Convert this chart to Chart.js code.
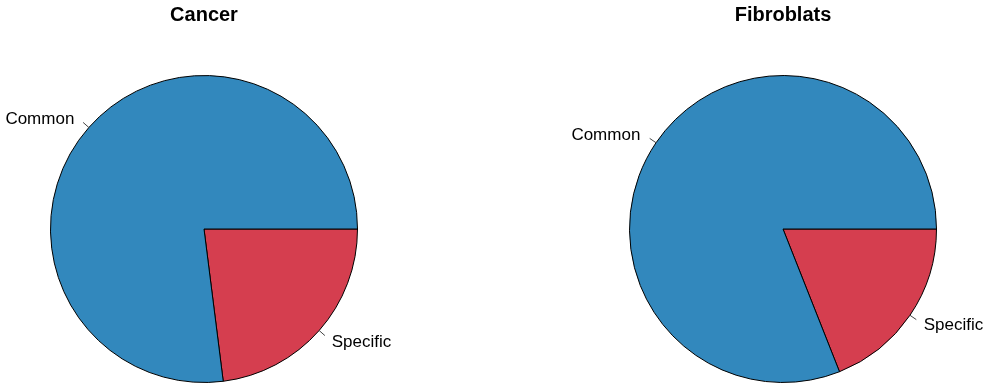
<!DOCTYPE html>
<html>
<head>
<meta charset="utf-8">
<script src="https://cdn.jsdelivr.net/npm/chart.js@4"></script>
<style>
  html, body { margin: 0; padding: 0; background: #fff; }
  #wrap { position: relative; width: 985px; height: 385px; }
  .box { position: absolute; top: 0; height: 385px; }
</style>
</head>
<body>
<div id="wrap">
  <div class="box" style="left:0;width:492px"><canvas id="pieCancer"></canvas></div>
  <div class="box" style="left:492px;width:493px"><canvas id="pieFibro"></canvas></div>
</div>
<script>
const categorias = ['Common', 'Specific'];
const valoresCancer = [77, 23];
const valoresFibro = [81, 19];
const colores = ['#3288BD', '#D53E4F'];

// etiquetas fuera de la tarta, al estilo de pie() en R
const etiquetasFuera = {
  id: 'etiquetasFuera',
  afterDatasetsDraw(chart) {
    const ctx = chart.ctx;
    const meta = chart.getDatasetMeta(0);
    ctx.save();
    ctx.font = '17px "Liberation Sans", Arial, sans-serif';
    ctx.textBaseline = 'middle';
    meta.data.forEach(function(arco, i) {
      const p = arco.getProps(['x', 'y', 'startAngle', 'endAngle', 'outerRadius'], true);
      const medio = (p.startAngle + p.endAngle) / 2;
      const c = Math.cos(medio), s = Math.sin(medio);
      const r = p.outerRadius;
      ctx.strokeStyle = '#444';
      ctx.lineWidth = 1;
      ctx.beginPath();
      ctx.moveTo(p.x + c * r, p.y + s * r);
      ctx.lineTo(p.x + c * r * 1.05, p.y + s * r * 1.05);
      ctx.stroke();
      ctx.fillStyle = '#000';
      ctx.textAlign = c < 0 ? 'right' : 'left';
      const hueco = c < 0 ? -3 : 1;
      ctx.fillText(chart.data.labels[i], p.x + c * r * 1.1 + hueco, p.y + s * r * 1.1 + 1.5);
    });
    ctx.restore();
  }
};

function crearTarta(id, titulo, valores, izq, der) {
  // Chart.js dibuja en sentido horario; empezamos por Specific desde las 3 en punto
  const orden = [1, 0];
  new Chart(document.getElementById(id), {
    type: 'pie',
    data: {
      labels: orden.map(i => categorias[i]),
      datasets: [{
        data: orden.map(i => valores[i]),
        backgroundColor: orden.map(i => colores[i]),
        borderColor: '#000',
        borderWidth: 1
      }]
    },
    options: {
      responsive: true,
      maintainAspectRatio: false,
      animation: false,
      rotation: 90,
      events: [],
      layout: { padding: { left: izq, right: der, top: 0, bottom: 2 } },
      plugins: {
        legend: { display: false },
        tooltip: { enabled: false },
        title: {
          display: true,
          text: titulo,
          color: '#000',
          font: { family: '"Liberation Sans", Arial, sans-serif', size: 20, weight: 'bold', lineHeight: 1.2 },
          padding: { top: 3, bottom: 48 }
        }
      }
    },
    plugins: [etiquetasFuera]
  });
}

crearTarta('pieCancer', 'Cancer', valoresCancer, 50, 134);
crearTarta('pieFibro', 'Fibroblats', valoresFibro, 137, 48);
</script>
</body>
</html>
